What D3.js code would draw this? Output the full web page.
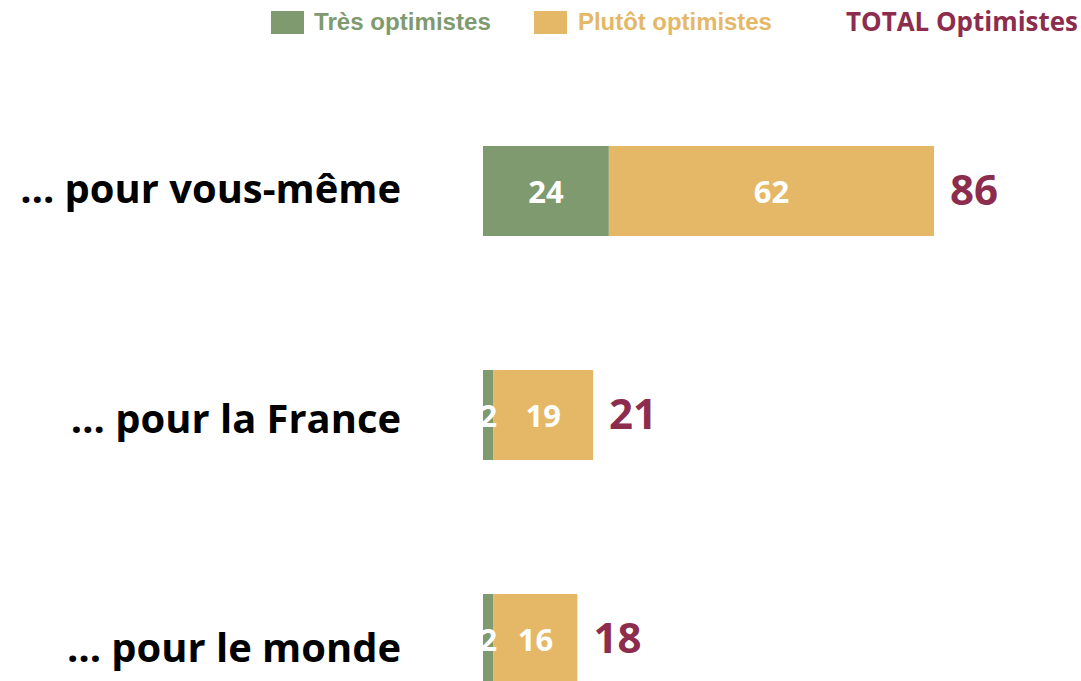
<!DOCTYPE html>
<html>
<head>
<meta charset="utf-8">
<script src="https://cdn.jsdelivr.net/npm/d3@7"></script>
<style>
  html, body { margin: 0; padding: 0; background: #fff; }
  svg { display: block; }
</style>
</head>
<body>
<svg id="chart" width="1081" height="681"></svg>
<script>
// Optimism survey: share "très" and "plutôt" optimistes, with total
const categories = ["… pour vous-même", "… pour la France", "… pour le monde"];
const tresOptimistes = [24, 2, 2];
const plutotOptimistes = [62, 19, 16];
const totalOptimistes = [86, 21, 18];
const seriesNames = ["Très optimistes", "Plutôt optimistes"];
const totalName = "TOTAL Optimistes";

const colors = { tres: "#7E9A6E", plutot: "#E5B867", total: "#8C2D4E" };

const svg = d3.select("#chart");
const rows = categories.map((c, i) => ({
  cat: c, tres: tresOptimistes[i], plutot: plutotOptimistes[i], total: totalOptimistes[i]
}));

const x = d3.scaleLinear().domain([0, 100]).range([483, 1007.4]);
const y = d3.scaleBand().domain(categories).range([79, 751])
  .paddingInner(134 / 224).paddingOuter(67 / 224);
const yLabel = d3.scalePoint().domain(categories).range([203, 662]);

const stack = d3.stack().keys(["tres", "plutot"])(rows);
const fill = { tres: colors.tres, plutot: colors.plutot };

const g = svg.append("g");
stack.forEach(layer => {
  g.selectAll(null).data(layer).enter().append("rect")
    .attr("x", d => x(d[0]))
    .attr("y", d => y(d.data.cat))
    .attr("width", d => x(d[1]) - x(d[0]))
    .attr("height", y.bandwidth())
    .attr("fill", fill[layer.key]);
});

// values inside segments
stack.forEach(layer => {
  g.selectAll(null).data(layer).enter().append("text")
    .attr("x", d => (x(d[0]) + x(d[1])) / 2)
    .attr("y", d => y(d.data.cat) + y.bandwidth() / 2 + 12)
    .attr("text-anchor", "middle")
    .attr("font-family", "'Open Sans', sans-serif")
    .attr("font-weight", 700)
    .attr("font-size", 31)
    .attr("fill", "#fff")
    .text(d => d[1] - d[0]);
});

// totals to the right of each bar
g.selectAll(null).data(rows).enter().append("text")
  .attr("x", d => x(d.total) + 16)
  .attr("y", d => y(d.cat) + y.bandwidth() / 2 + 14)
  .attr("font-family", "'Open Sans', sans-serif")
  .attr("font-weight", 700)
  .attr("font-size", 42)
  .attr("fill", colors.total)
  .text(d => d.total);

// category labels
const catLabels = g.selectAll(null).data(rows).enter().append("text")
  .attr("x", 401)
  .attr("y", d => yLabel(d.cat))
  .attr("text-anchor", "end")
  .attr("font-family", "'Open Sans', sans-serif")
  .attr("font-weight", 700)
  .attr("font-size", 38)
  .attr("fill", "#000")
  .text(d => d.cat);
// size labels so the widest spans 381px
const maxW = d3.max(catLabels.nodes(), n => n.getComputedTextLength());
catLabels.attr("font-size", 38 * 381 / maxW);

// legend
function fitText(sel, size, width) {
  const w = sel.node().getComputedTextLength();
  sel.attr("font-size", size * width / w);
}
const legend = svg.append("g");
const legendItems = [
  { name: seriesNames[0], color: colors.tres, sx: 271, tx: 314, tw: 177 },
  { name: seriesNames[1], color: colors.plutot, sx: 534, tx: 578, tw: 194 }
];
legendItems.forEach(it => {
  legend.append("rect").attr("x", it.sx).attr("y", 11).attr("width", 33).attr("height", 23)
    .attr("fill", it.color);
  const t = legend.append("text").attr("x", it.tx).attr("y", 30)
    .attr("font-family", "'Liberation Sans', Arial, sans-serif")
    .attr("font-weight", 700).attr("font-size", 22)
    .attr("fill", it.color).text(it.name);
  fitText(t, 22, it.tw);
});
const tt = legend.append("text").attr("x", 846).attr("y", 31)
  .attr("font-family", "'Open Sans', sans-serif")
  .attr("font-weight", 700).attr("font-size", 24)
  .attr("fill", colors.total).text(totalName);
fitText(tt, 24, 232);
</script>
</body>
</html>
